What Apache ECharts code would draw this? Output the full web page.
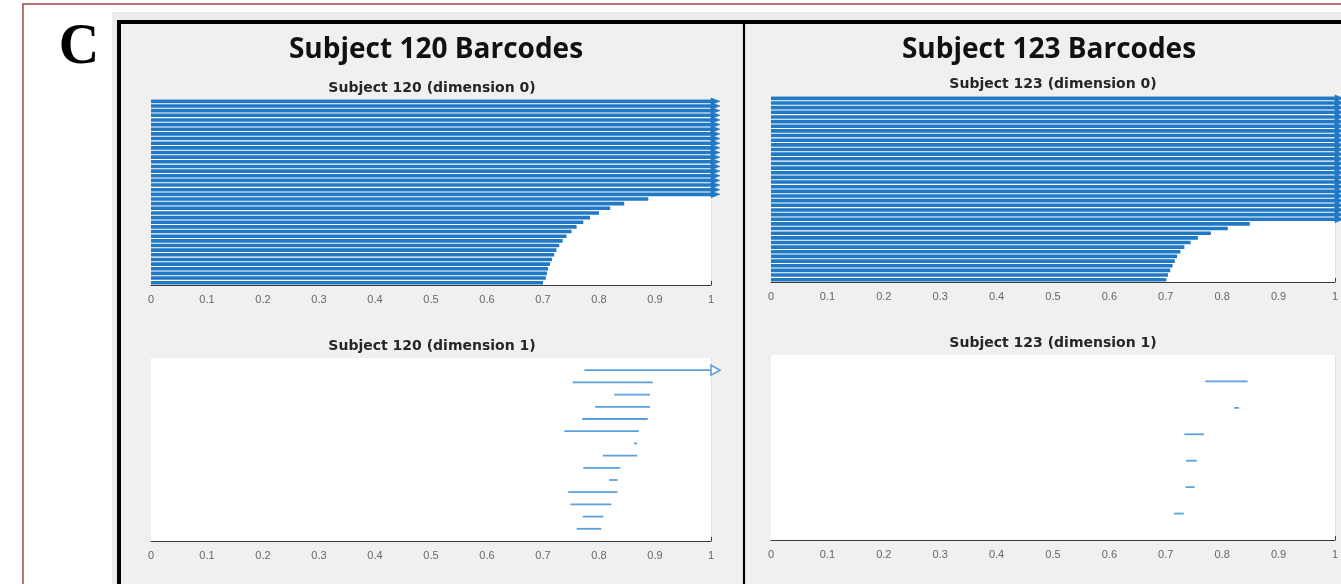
<!DOCTYPE html>
<html>
<head>
<meta charset="utf-8">
<script src="https://cdn.jsdelivr.net/npm/echarts@6/dist/echarts.min.js"></script>
<style>
html,body{margin:0;padding:0;background:#fff;}
#chart{width:1341px;height:584px;}
</style>
</head>
<body>
<div id="chart"></div>
<script>
// ---------- data (ordered top to bottom as drawn) ----------
const xTickLabels = ['0','0.1','0.2','0.3','0.4','0.5','0.6','0.7','0.8','0.9','1'];

const panelTitles = ['Subject 120 Barcodes', 'Subject 123 Barcodes'];
const plotTitles = ['Subject 120 (dimension 0)', 'Subject 120 (dimension 1)',
                    'Subject 123 (dimension 0)', 'Subject 123 (dimension 1)'];

const sub120Dim0Births = [0,0,0,0,0,0,0,0,0,0,0,0,0,0,0,0,0,0,0,0,
                          0,0,0,0,0,0,0,0,0,0,0,0,0,0,0,0,0,0,0,0];
const sub120Dim0Deaths = [Infinity,Infinity,Infinity,Infinity,Infinity,Infinity,Infinity,
                          Infinity,Infinity,Infinity,Infinity,Infinity,Infinity,Infinity,
                          Infinity,Infinity,Infinity,Infinity,Infinity,Infinity,Infinity,
                          0.888,0.845,0.820,0.800,0.784,0.772,0.760,0.751,0.742,0.735,
                          0.729,0.724,0.720,0.716,0.7125,0.709,0.707,0.705,0.700];

const sub120Dim1Births = [0.774,0.753,0.827,0.793,0.770,0.738,0.8625,0.807,0.772,0.818,0.745,0.749,0.771,0.760];
const sub120Dim1Deaths = [Infinity,0.896,0.891,0.891,0.887,0.871,0.868,0.868,0.838,0.833,0.833,0.822,0.808,0.804];

const sub123Dim0Births = [0,0,0,0,0,0,0,0,0,0,0,0,0,0,0,0,0,0,0,0,
                          0,0,0,0,0,0,0,0,0,0,0,0,0,0,0,0,0,0,0,0];
const sub123Dim0Deaths = [Infinity,Infinity,Infinity,Infinity,Infinity,Infinity,Infinity,
                          Infinity,Infinity,Infinity,Infinity,Infinity,Infinity,Infinity,
                          Infinity,Infinity,Infinity,Infinity,Infinity,Infinity,Infinity,
                          Infinity,Infinity,Infinity,Infinity,Infinity,Infinity,
                          0.849,0.810,0.780,0.757,0.744,0.733,0.726,0.720,0.716,0.712,
                          0.708,0.704,0.701];

const sub123Dim1Births = [0.770,0.8215,0.733,0.736,0.735,0.7145];
const sub123Dim1Deaths = [0.845,0.830,0.768,0.755,0.751,0.732];

// ---------- build ----------
const X_MAX = 1;
function toItems(births, deaths) {
  const n = births.length;
  return births.map((b, i) => {
    const inf = !isFinite(deaths[i]);
    return [b, inf ? X_MAX : deaths[i], n - i, inf ? 1 : 0];
  });
}

function makeRender(opts) {
  return function (params, api) {
    const s = api.coord([api.value(0), api.value(2)]);
    const e = api.coord([api.value(1), api.value(2)]);
    const children = [{
      type: 'line',
      shape: {x1: s[0], y1: s[1], x2: e[0], y2: e[1]},
      style: {stroke: opts.color, lineWidth: opts.width}
    }];
    if (api.value(3) === 1) {
      children.push({
        type: 'polygon',
        shape: {points: [[e[0], e[1] - opts.half], [e[0] + opts.len, e[1]], [e[0], e[1] + opts.half]]},
        style: opts.filled
          ? {fill: opts.color, stroke: opts.color, lineWidth: 0.5}
          : {fill: '#ffffff', stroke: opts.color, lineWidth: 1.6}
      });
    }
    return {type: 'group', children: children};
  };
}

const grids = [
  {left: 151, top: 99,  width: 560, height: 186},
  {left: 151, top: 358, width: 560, height: 183},
  {left: 771, top: 96,  width: 564, height: 186},
  {left: 771, top: 355, width: 564, height: 185}
];

const datasets = [
  toItems(sub120Dim0Births, sub120Dim0Deaths),
  toItems(sub120Dim1Births, sub120Dim1Deaths),
  toItems(sub123Dim0Births, sub123Dim0Deaths),
  toItems(sub123Dim1Births, sub123Dim1Deaths)
];
const isDim0 = [true, false, true, false];

const option = {
  animation: false,
  backgroundColor: '#ffffff',
  grid: grids.map(g => Object.assign({show: true, backgroundColor: '#ffffff', borderWidth: 0, z: 1}, g)),
  xAxis: grids.map((g, i) => ({
    gridIndex: i, type: 'value', min: 0, max: 1, interval: 0.1,
    axisLine: {show: true, lineStyle: {color: '#3a3a3a', width: 1}},
    axisTick: {show: true, inside: true, length: 4, lineStyle: {color: '#3a3a3a'}},
    splitLine: {show: true, lineStyle: {color: '#e2e2e2', width: 1}},
    axisLabel: {
      margin: 9, color: '#666666', fontSize: 11, fontFamily: 'Liberation Sans',
      formatter: v => xTickLabels[Math.round(v * 10)]
    }
  })),
  yAxis: datasets.map((d, i) => ({
    gridIndex: i, type: 'value',
    min: isDim0[i] ? 0.5 : 0,
    max: isDim0[i] ? d.length + 0.5 : d.length + 1,
    show: false
  })),
  series: datasets.map((d, i) => ({
    type: 'custom', xAxisIndex: i, yAxisIndex: i, clip: false, z: 3,
    encode: {x: [0, 1], y: 2},
    renderItem: makeRender(isDim0[i]
      ? {color: '#2178c4', width: 3.6, filled: true, half: 3.4, len: 9}
      : {color: '#5aa1dc', width: 1.8, filled: false, half: 5, len: 9}),
    data: d
  })),
  graphic: [
    {type: 'rect', z: -20, shape: {x: 112, y: 12, width: 1400, height: 700}, style: {fill: '#ececec'}},
    {type: 'rect', z: -19, shape: {x: 121, y: 24, width: 1400, height: 700}, style: {fill: '#f0f0f0'}},
    {type: 'line', z: -5, shape: {x1: 117, y1: 22, x2: 1345, y2: 22}, style: {stroke: '#000', lineWidth: 4}},
    {type: 'line', z: -5, shape: {x1: 119, y1: 20, x2: 119, y2: 600}, style: {stroke: '#000', lineWidth: 4}},
    {type: 'line', z: -5, shape: {x1: 744, y1: 22, x2: 744, y2: 600}, style: {stroke: '#000', lineWidth: 2.2}},
    {type: 'rect', z: -4, shape: {x: 23, y: 4, width: 1400, height: 700}, style: {fill: 'none', stroke: '#a84444', lineWidth: 1.5}},
    {type: 'text', z: 10, x: 79, y: 49, style: {text: 'C', font: 'bold 56px "Liberation Serif"', fill: '#000', textAlign: 'center', textVerticalAlign: 'middle'}},
    {type: 'text', z: 10, x: 436, y: 50, style: {text: panelTitles[0], font: 'bold 28px "Open Sans"', fill: '#111', textAlign: 'center', textVerticalAlign: 'middle'}},
    {type: 'text', z: 10, x: 1049, y: 50, style: {text: panelTitles[1], font: 'bold 28px "Open Sans"', fill: '#111', textAlign: 'center', textVerticalAlign: 'middle'}},
    {type: 'text', z: 10, x: 432, y: 88, style: {text: plotTitles[0], font: 'bold 14px "DejaVu Sans"', fill: '#262626', textAlign: 'center', textVerticalAlign: 'middle'}},
    {type: 'text', z: 10, x: 432, y: 346, style: {text: plotTitles[1], font: 'bold 14px "DejaVu Sans"', fill: '#262626', textAlign: 'center', textVerticalAlign: 'middle'}},
    {type: 'text', z: 10, x: 1053, y: 84, style: {text: plotTitles[2], font: 'bold 14px "DejaVu Sans"', fill: '#262626', textAlign: 'center', textVerticalAlign: 'middle'}},
    {type: 'text', z: 10, x: 1053, y: 343, style: {text: plotTitles[3], font: 'bold 14px "DejaVu Sans"', fill: '#262626', textAlign: 'center', textVerticalAlign: 'middle'}}
  ]
};

const chart = echarts.init(document.getElementById('chart'), null, {renderer: 'canvas'});
chart.setOption(option);
</script>
</body>
</html>
